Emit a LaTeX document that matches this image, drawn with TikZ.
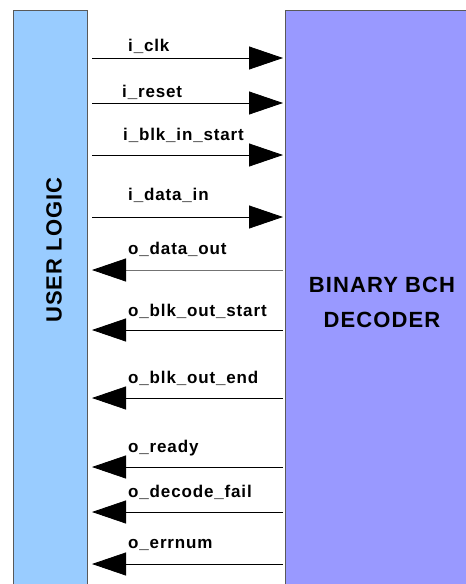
\documentclass[tikz,border=0pt]{standalone}
\usepackage{fontspec}
\setmainfont{Liberation Sans}
\newfontfamily\sigfont[LetterSpace=5]{Liberation Sans}
\usetikzlibrary{arrows.meta}
\usetikzlibrary{positioning}

\definecolor{userblue}{HTML}{99CCFF}
\definecolor{decpurple}{HTML}{9999FF}

\tikzset{
	block/.style={draw=black!65, line width=1pt, anchor=north west, inner sep=0pt},
	sig/.style={draw=black, line width=0.8pt, -{Triangle[length=34pt,width=23pt,black]}},
	siglabel/.style={anchor=base west, inner sep=0pt, font=\sigfont\fontsize{17}{20}\selectfont\bfseries},
	blocktitle/.style={font=\sigfont\fontsize{22}{35}\selectfont\bfseries, align=center}
}

\begin{document}
\begin{tikzpicture}[x=1pt,y=-1pt]
	\useasboundingbox (0,0) rectangle (466,584);

	% the two blocks
	\node[block, fill=userblue, minimum width=74pt, minimum height=600pt] (user) at (13,10) {};
	\node[block, fill=decpurple, minimum width=200pt, minimum height=600pt] (dec) at (285,10) {};
	\node[blocktitle, rotate=90] (usertxt) at (54,250) {USER LOGIC};
	\node[blocktitle] (dectxt) at (382,302) {BINARY BCH\\DECODER};

	% inputs
	\foreach \name/\y/\b/\x in {i\_clk/58/51/128, i\_reset/103/97/122,
	                            i\_blk\_in\_start/155/140/123, i\_data\_in/217/200/128}{
		\coordinate (s\y) at (0,\y);
		\draw[sig] ([xshift=4pt]user.east |- s\y) -- ([xshift=-2pt]dec.west |- s\y);
		\node[siglabel] (lbl\y) at (\x,\b) {\name};
	}

	% outputs
	\foreach \name/\y/\b/\c in {o\_data\_out/270/254/black!55, o\_blk\_out\_start/330/316/black,
	                            o\_blk\_out\_end/398/383/black, o\_ready/467/452/black,
	                            o\_decode\_fail/512/497/black, o\_errnum/564/548/black}{
		\coordinate (s\y) at (0,\y);
		\draw[sig, draw=\c] ([xshift=-2pt]dec.west |- s\y) -- ([xshift=4pt]user.east |- s\y);
		\node[siglabel] (lbl\y) at (128,\b) {\name};
	}
\end{tikzpicture}
\end{document}
